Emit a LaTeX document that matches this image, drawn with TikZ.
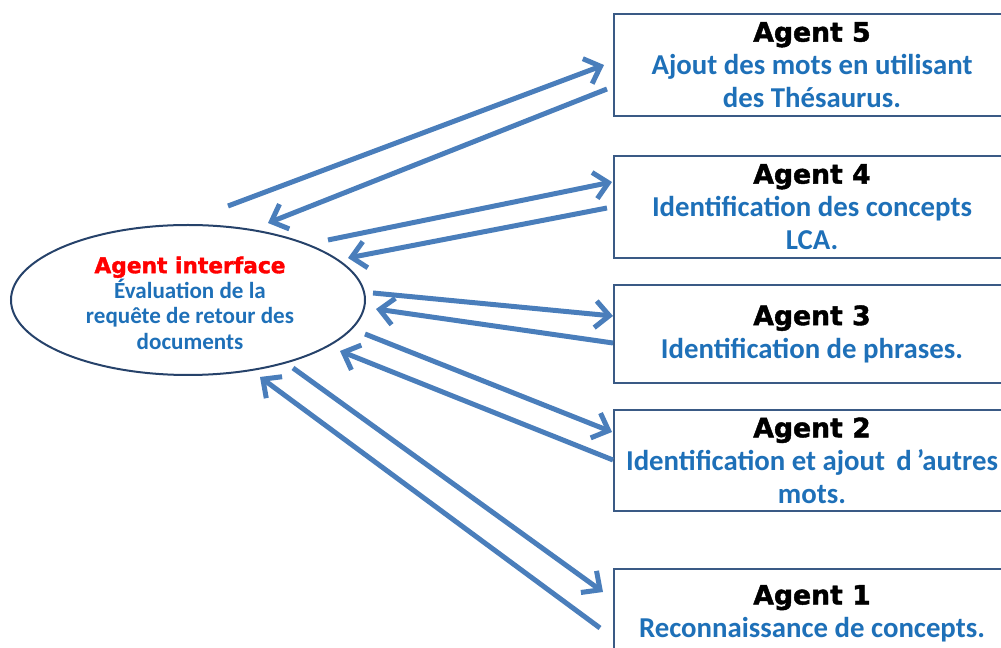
\documentclass[tikz,border=0pt]{standalone}
\usepackage{fontspec}
\setmainfont{Carlito}
\newfontfamily\headfont{DejaVu Sans}[BoldFeatures={FakeBold=1.6}]
\usetikzlibrary{arrows.meta,shapes.geometric}

\definecolor{arrowblue}{RGB}{74,126,187}
\definecolor{textblue}{RGB}{30,112,184}
\definecolor{boxline}{RGB}{58,90,133}
\definecolor{ellline}{RGB}{38,66,106}

% heading line of each agent box
\newcommand\agenthead[1]{{\headfont\bfseries\fontsize{20pt}{24pt}\selectfont\color{black}#1}}

\tikzset{
  agentbox/.style={draw=boxline, line width=1.5pt, rectangle,
    minimum width=297pt, minimum height=#1, inner sep=0pt, align=center,
    text=textblue, font=\bfseries\fontsize{21.6pt}{24.75pt}\selectfont},
  interface/.style={draw=ellline, line width=1.5pt, ellipse,
    minimum width=265.5pt, minimum height=112.5pt, inner sep=0pt, align=center,
    text=textblue, font=\bfseries\fontsize{17.3pt}{19pt}\selectfont},
  flow/.style={draw=arrowblue, line width=3.75pt,
    -{Straight Barb[length=10.5pt,width=20pt]}},
}

\begin{document}
\begin{tikzpicture}[x=0.75pt, y=-0.75pt]
  \useasboundingbox (0,0) rectangle (1001,648);
  \clip (0,0) rectangle (1001,648);

  % central interface agent
  \node[interface] (iface) at (188,300) {};
  \node[align=center, inner sep=0pt, text=textblue,
        font=\bfseries\fontsize{17.3pt}{19pt}\selectfont] (ifacetext) at (190,303)
    {{\headfont\bfseries\fontsize{16.3pt}{19pt}\selectfont\color{red}Agent interface}\\
     Évaluation de la\\ requête de retour des\\ documents};

  % the five agents on the right
  \node[agentbox=76.5pt] (a5) at (812,65)
    {\agenthead{Agent 5}\\ Ajout des mots en utilisant\\ des Thésaurus.};
  \node[agentbox=76.5pt] (a4) at (812,207)
    {\agenthead{Agent 4}\\ Identification des concepts\\ LCA.};
  \node[agentbox=73.5pt] (a3) at (812,334)
    {\agenthead{Agent 3}\\ Identification de phrases.};
  \node[agentbox=75.75pt] (a2) at (812,460.5)
    {\agenthead{Agent 2}\\ Identification et ajout\, d\,’autres\\ mots.};
  \node[agentbox=66.75pt] (a1) at (812,613.5)
    {\agenthead{Agent 1}\\ Reconnaissance de concepts.};

  % end points of the message arrows
  \coordinate (s5) at (228,206);  \coordinate (t5) at (604,65);
  \coordinate (r5) at (607,89);   \coordinate (b5) at (268,223);
  \coordinate (s4) at (328,240);  \coordinate (t4) at (612,182);
  \coordinate (r4) at (607,208);  \coordinate (b4) at (348,258);
  \coordinate (s3) at (373,293);  \coordinate (t3) at (613,316);
  \coordinate (r3) at (613,343);  \coordinate (b3) at (376,309);
  \coordinate (s2) at (365,334);  \coordinate (t2) at (612,432);
  \coordinate (r2) at (613,460);  \coordinate (b2) at (340,351);
  \coordinate (s1) at (293,368);  \coordinate (t1) at (603,592);
  \coordinate (r1) at (600,628);  \coordinate (b1) at (260,377);

  % requests out to the agents and answers back
  \foreach \k in {1,...,5}{
    \draw[flow] (s\k) -- (t\k);
    \draw[flow] (r\k) -- (b\k);
  }
\end{tikzpicture}
\end{document}
